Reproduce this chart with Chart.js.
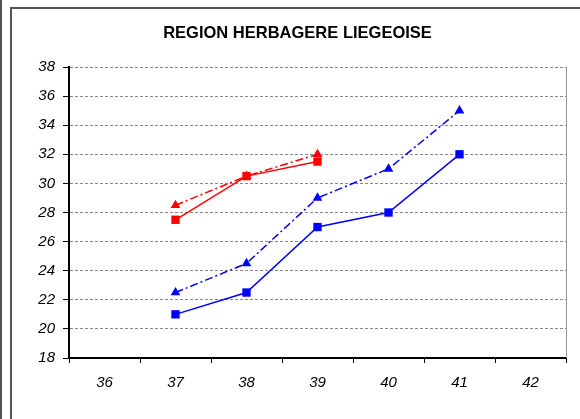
<html><head><meta charset="UTF-8">
<title>Region herbagere liegeoise</title>
<style>
    body, html {
        margin: 0;
        padding: 0;
        background-color: #fff;
    }
    #wrap {
        width: 580px;
        height: 419px;
    }
</style>
<script src="https://cdn.jsdelivr.net/npm/chart.js"></script>
</head>
<body>
<div id="wrap"><canvas id="chart" width="580" height="419"></canvas></div>
<script>
    // données
    const semaines = ['36', '37', '38', '39', '40', '41', '42'];
    const rougeCarre = [null, 27.5, 30.5, 31.5, null, null, null];
    const rougeTriangle = [null, 28.5, 30.5, 32, null, null, null];
    const bleuCarre = [null, 21, 22.5, 27, 28, 32, null];
    const bleuTriangle = [null, 22.5, 24.5, 29, 31, 35, null];
    const yMin = 18, yMax = 38, yPas = 2;

    const police = "'Liberation Sans', Arial, sans-serif";

    // cadres gris + bord droit de la zone de tracé
    const cadre = {
        id: 'cadre',
        afterDraw(chart) {
            const ctx = chart.ctx;
            const a = chart.chartArea;
            ctx.save();
            ctx.strokeStyle = '#555';
            ctx.lineWidth = 2;
            ctx.beginPath();
            ctx.moveTo(1, 0); ctx.lineTo(1, 419);
            ctx.moveTo(11, 419); ctx.lineTo(11, 8); ctx.lineTo(580, 8);
            ctx.stroke();
            ctx.strokeStyle = '#999';
            ctx.lineWidth = 1;
            ctx.beginPath();
            ctx.moveTo(a.right + 0.5, a.top); ctx.lineTo(a.right + 0.5, a.bottom);
            ctx.stroke();
            ctx.restore();
        }
    };

    function serie(data, couleur, forme, tirets) {
        return {
            data: data,
            borderColor: couleur,
            backgroundColor: couleur,
            borderWidth: 1.5,
            borderDash: tirets,
            pointStyle: forme,
            pointRadius: forme === 'rect' ? 5.9 : 5.6,
            pointBorderWidth: 0,
            tension: 0
        };
    }

    new Chart(document.getElementById('chart'), {
        type: 'line',
        data: {
            labels: semaines,
            datasets: [
                serie(rougeCarre, '#FF0000', 'rect', []),
                serie(rougeTriangle, '#FF0000', 'triangle', [8, 3, 2, 3]),
                serie(bleuCarre, '#0000FF', 'rect', []),
                serie(bleuTriangle, '#0000FF', 'triangle', [8, 3, 2, 3])
            ]
        },
        options: {
            responsive: false,
            animation: false,
            layout: { padding: { left: 29, right: 14, top: 20, bottom: 11 } },
            plugins: {
                legend: { display: false },
                tooltip: { enabled: false },
                title: {
                    display: true,
                    text: 'REGION HERBAGERE LIEGEOISE',
                    color: '#000',
                    font: { family: police, size: 16.5, weight: 'bold', lineHeight: 1.2 },
                    padding: { top: 4, bottom: 23.2 }
                }
            },
            scales: {
                x: {
                    offset: true,
                    afterFit(s) { s.height = 50; },
                    grid: {
                        offset: true,
                        drawOnChartArea: false,
                        tickLength: 5,
                        tickColor: '#000',
                        tickWidth: 1
                    },
                    border: { color: '#000', width: 2 },
                    ticks: {
                        color: '#000',
                        padding: 11,
                        font: { family: police, size: 15, style: 'italic' }
                    }
                },
                y: {
                    min: yMin,
                    max: yMax,
                    afterFit(s) { s.width = 40; },
                    grid: {
                        color: '#888',
                        tickColor: '#000',
                        tickLength: 6,
                        tickWidth: 1,
                        tickBorderDash: []
                    },
                    border: { color: '#000', width: 2, dash: [3, 2] },
                    ticks: {
                        stepSize: yPas,
                        color: '#000',
                        padding: 8,
                        font: { family: police, size: 15, style: 'italic' }
                    }
                }
            }
        },
        plugins: [cadre]
    });
</script>
</body>
</html>
